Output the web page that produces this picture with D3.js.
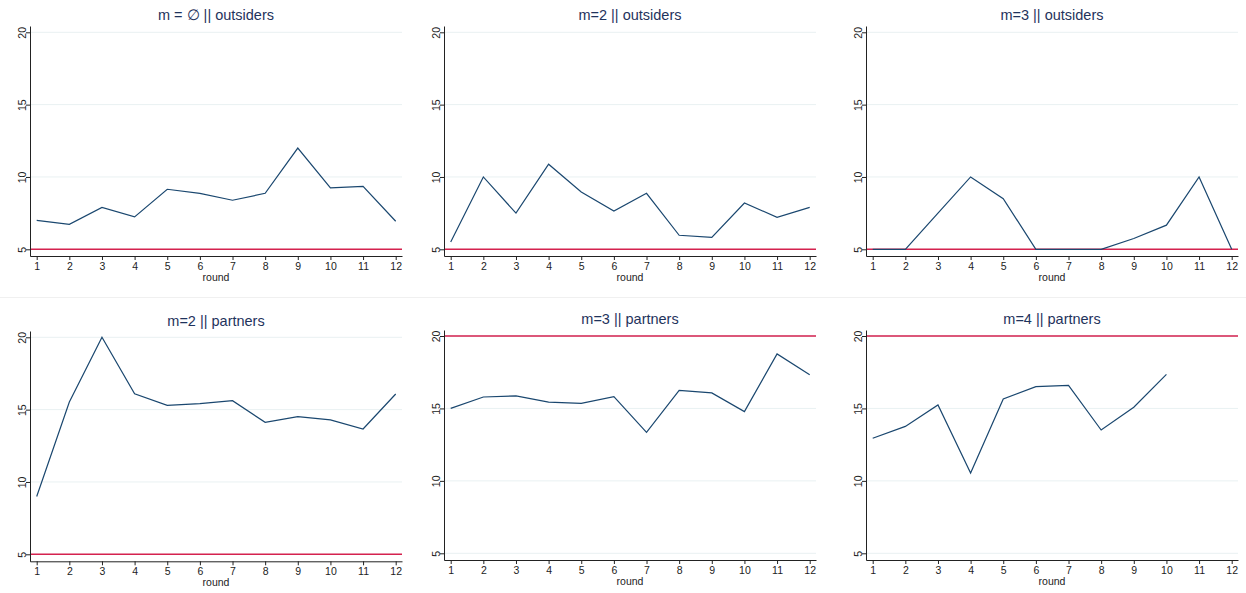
<!DOCTYPE html>
<html>
<head>
<meta charset="utf-8">
<script src="https://cdn.jsdelivr.net/npm/d3@7"></script>
<style>
  html, body { margin: 0; padding: 0; background: #fff; }
  svg { display: block; font-family: "Liberation Sans", Arial, sans-serif; }
</style>
</head>
<body>
<svg id="chart" width="1246" height="593"></svg>
<script>
// Rounds on the x axis
const rounds = [1, 2, 3, 4, 5, 6, 7, 8, 9, 10, 11, 12];
const yTicks = [5, 10, 15, 20];

// Panel titles
const titles = [
  "m = \u2205 || outsiders", "m=2 || outsiders", "m=3 || outsiders",
  "m=2 || partners", "m=3 || partners", "m=4 || partners"
];

// Mean per round, one array per panel
const outsidersNone = [7.0, 6.73, 7.9, 7.24, 9.15, 8.87, 8.39, 8.87, 12.0, 9.24, 9.35, 6.94];
const outsidersM2   = [5.5, 10.0, 7.5, 10.88, 8.96, 7.65, 8.87, 5.97, 5.83, 8.2, 7.21, 7.9];
const outsidersM3   = [5.0, 5.0, 7.5, 10.0, 8.5, 5.0, 5.0, 5.0, 5.75, 6.67, 10.0, 5.0];
const partnersM2    = [9.0, 15.53, 20.0, 16.1, 15.3, 15.41, 15.62, 14.12, 14.52, 14.29, 13.66, 16.08];
const partnersM3    = [15.0, 15.79, 15.86, 15.44, 15.35, 15.81, 13.35, 16.25, 16.07, 14.78, 18.76, 17.33];
const partnersM4    = [12.94, 13.76, 15.24, 10.54, 15.65, 16.5, 16.59, 13.51, 15.08, 17.35];

// Reference level per panel
const refLevels = [5, 5, 5, 5, 20, 20];

const seriesList = [outsidersNone, outsidersM2, outsidersM3, partnersM2, partnersM3, partnersM4];

// Layout of each panel in pixels
const cols = [
  { axisX: 30,  x1: 36.7,  x12: 395.7,  right: 402 },
  { axisX: 444, x1: 450.7, x12: 809.7,  right: 816 },
  { axisX: 866, x1: 872.7, x12: 1231.7, right: 1238 }
];
const rows = [
  [ { y20: 32.3, y5: 249.3, top: 26, bottom: 256, titleY: 20, tickLabY: 270, roundY: 281 },
    { y20: 32.3, y5: 249.3, top: 26, bottom: 256, titleY: 20, tickLabY: 270, roundY: 281 },
    { y20: 32.3, y5: 249.3, top: 26, bottom: 256, titleY: 20, tickLabY: 270, roundY: 281 } ],
  [ { y20: 337.3, y5: 554.3, top: 331, bottom: 561.3, titleY: 326, tickLabY: 575, roundY: 586 },
    { y20: 336,   y5: 553.3, top: 330, bottom: 560,   titleY: 324, tickLabY: 574, roundY: 585 },
    { y20: 336,   y5: 553.3, top: 330, bottom: 560,   titleY: 324, tickLabY: 574, roundY: 585 } ]
];

const lineColor = "#1a476f";
const refColor = "#d5224f";
const gridColor = "#e9f1f2";
const titleColor = "#1f335c";

const svg = d3.select("#chart");

// faint divider between the two rows
svg.append("line")
  .attr("x1", 0).attr("x2", 1246)
  .attr("y1", 297.5).attr("y2", 297.5)
  .attr("stroke", "#f0f0f0").attr("stroke-width", 1);

seriesList.forEach((values, i) => {
  const c = cols[i % 3];
  const r = rows[Math.floor(i / 3)][i % 3];

  const xBase = d3.scaleLinear().domain([1, 12]).range([c.x1, c.x12]);
  const yBase = d3.scaleLinear().domain([5, 20]).range([r.y5, r.y20]);
  const x = d3.scaleLinear().domain([xBase.invert(c.axisX), xBase.invert(c.right)]).range([c.axisX, c.right]);
  const y = d3.scaleLinear().domain([yBase.invert(r.bottom), yBase.invert(r.top)]).range([r.bottom, r.top]);

  const g = svg.append("g");

  // gridlines
  g.append("g").selectAll("line")
    .data(yTicks)
    .join("line")
    .attr("x1", c.axisX).attr("x2", c.right)
    .attr("y1", d => y(d)).attr("y2", d => y(d))
    .attr("stroke", gridColor).attr("stroke-width", 1);

  // reference line
  g.append("line")
    .attr("x1", c.axisX).attr("x2", c.right)
    .attr("y1", y(refLevels[i])).attr("y2", y(refLevels[i]))
    .attr("stroke", refColor).attr("stroke-width", 1.6);

  // data line
  const line = d3.line().x((d, k) => x(rounds[k])).y(d => y(d));
  g.append("path")
    .datum(values)
    .attr("d", line)
    .attr("fill", "none")
    .attr("stroke", lineColor)
    .attr("stroke-width", 1.2)
    .attr("stroke-linejoin", "miter");

  // y axis
  const yAxis = g.append("g")
    .attr("transform", `translate(${c.axisX},0)`)
    .call(d3.axisLeft(y).tickValues(yTicks).tickSize(4).tickSizeOuter(0).tickFormat(d3.format("d")));
  yAxis.select(".domain").attr("stroke", "#222");
  yAxis.selectAll(".tick line").attr("stroke", "#222");
  yAxis.selectAll(".tick text")
    .attr("x", null).attr("dy", null)
    .attr("transform", "translate(-4.5,0) rotate(-90)")
    .attr("text-anchor", "middle")
    .attr("font-size", 10.5)
    .attr("font-family", "Liberation Sans, Arial, sans-serif")
    .attr("fill", "#222");

  // x axis
  const xAxis = g.append("g")
    .attr("transform", `translate(0,${r.bottom})`)
    .call(d3.axisBottom(x).tickValues(rounds).tickSize(4).tickSizeOuter(0).tickFormat(d3.format("d")));
  xAxis.select(".domain").attr("stroke", "#222");
  xAxis.selectAll(".tick line").attr("stroke", "#222");
  xAxis.selectAll(".tick text")
    .attr("y", r.tickLabY - r.bottom).attr("dy", null)
    .attr("font-size", 10.5)
    .attr("font-family", "Liberation Sans, Arial, sans-serif")
    .attr("fill", "#222");

  // axis title
  g.append("text")
    .attr("x", (c.axisX + c.right) / 2)
    .attr("y", r.roundY)
    .attr("text-anchor", "middle")
    .attr("font-size", 10.5)
    .attr("fill", "#222")
    .text("round");

  // panel title
  g.append("text")
    .attr("x", (c.axisX + c.right) / 2)
    .attr("y", r.titleY)
    .attr("text-anchor", "middle")
    .attr("font-size", 14.5)
    .attr("fill", titleColor)
    .text(titles[i]);
});
</script>
</body>
</html>
